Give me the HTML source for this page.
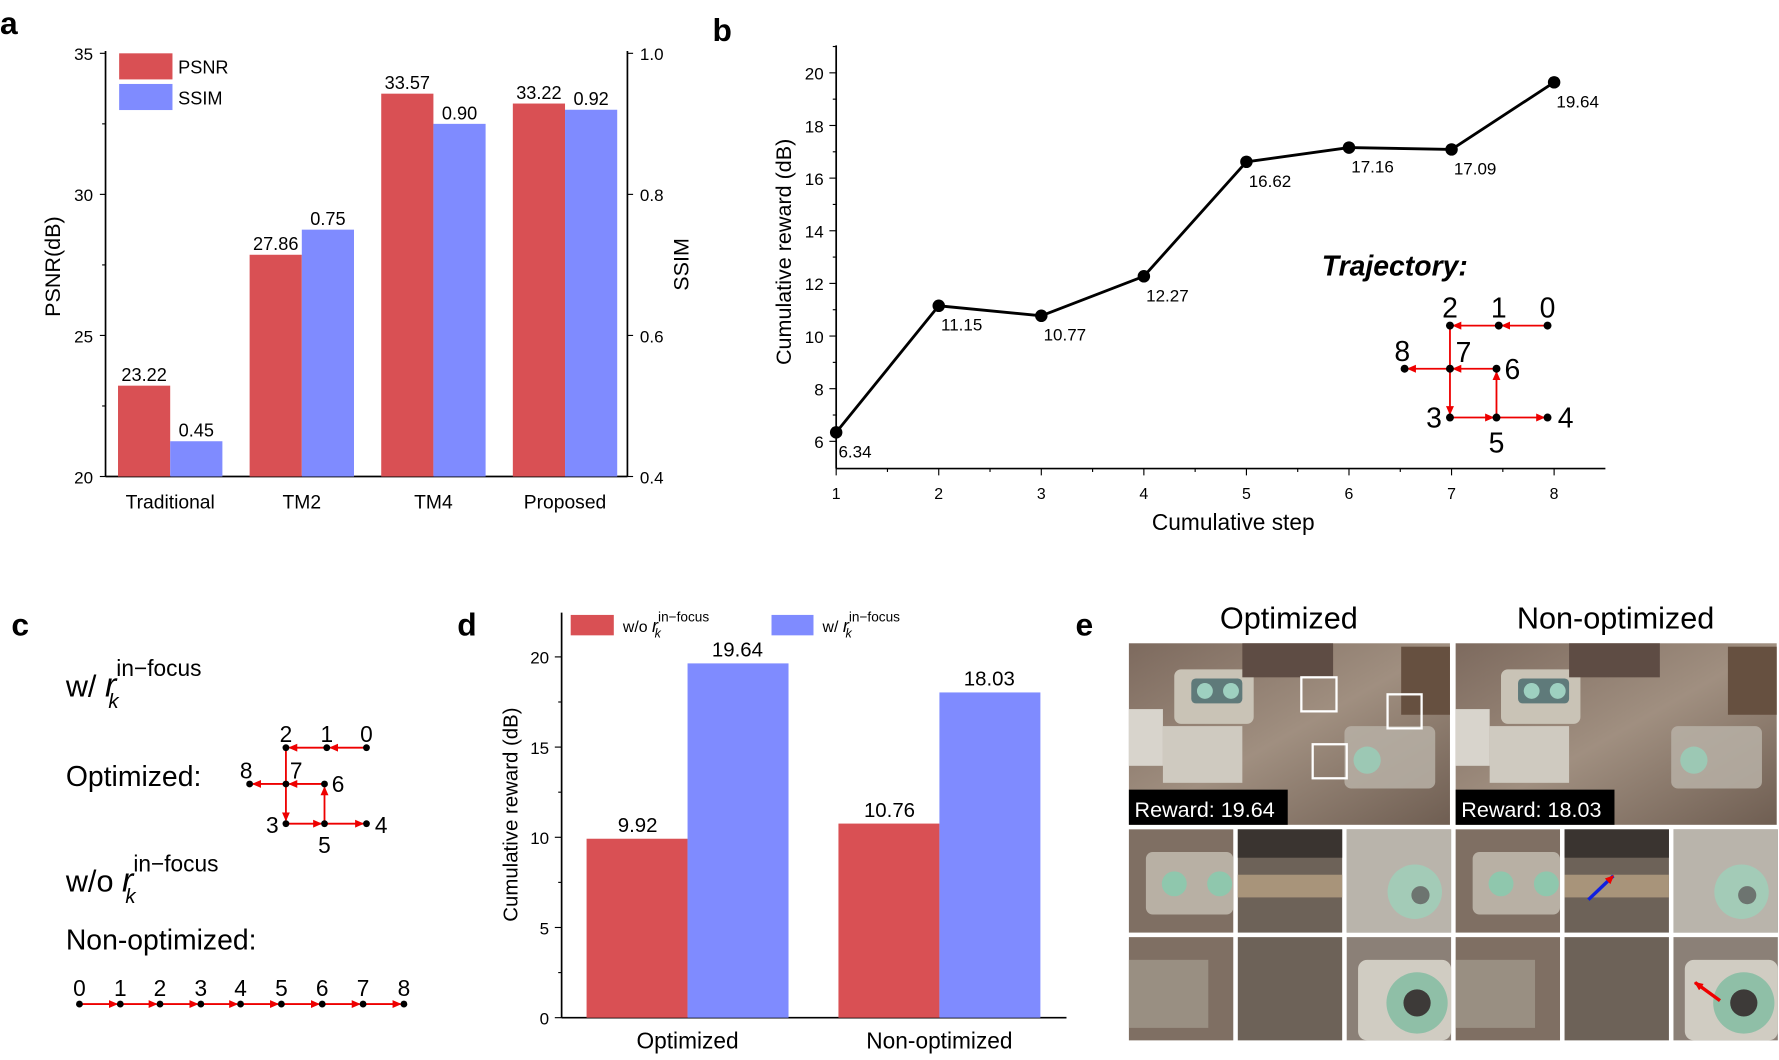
<!DOCTYPE html>
<html><head><meta charset="utf-8"><style>
html,body{margin:0;padding:0;background:#fff}
svg{display:block;font-family:"Liberation Sans",sans-serif}
</style></head><body>
<svg id="fig" width="1779" height="1060" viewBox="0 0 1568 934.3" xmlns="http://www.w3.org/2000/svg">
<defs>
<marker id="ar" markerWidth="8" markerHeight="8" refX="7" refY="4" orient="auto" markerUnits="userSpaceOnUse"><path d="M0,0.5 L8,4 L0,7.5 Z" fill="#e00"/></marker>
<linearGradient id="imgA" x1="0" y1="0" x2="1" y2="1"><stop offset="0" stop-color="#7d6a5e"/><stop offset="0.5" stop-color="#a08f80"/><stop offset="1" stop-color="#6f5e52"/></linearGradient>
</defs>
<g font-weight="bold" font-size="28">
<text x="0" y="30">a</text>
<text x="628" y="36">b</text>
<text x="10" y="560">c</text>
<text x="403" y="560">d</text>
<text x="948" y="560">e</text>
</g>
<g id="pa"></g>
<g id="pb"></g>
<g id="pc">
<text x="58" y="614" font-size="27">w/ <tspan font-style="italic" font-size="30">r</tspan><tspan font-size="20" dy="-18">in−focus</tspan><tspan font-style="italic" font-size="18" dx="-82" dy="28">k</tspan></text>
<text x="58" y="693" font-size="25">Optimized:</text>
<text x="58" y="786" font-size="27">w/o <tspan font-style="italic" font-size="30">r</tspan><tspan font-size="20" dy="-18">in−focus</tspan><tspan font-style="italic" font-size="18" dx="-82" dy="28">k</tspan></text>
<text x="58" y="837" font-size="25">Non-optimized:</text>
</g>
<g id="pd"></g>
<g id="pe"></g>
</svg>
<script>
const NS="http://www.w3.org/2000/svg";
function mk(parent,tag,attrs,txt){const e=document.createElementNS(NS,tag);for(const k in attrs)e.setAttribute(k,attrs[k]);if(txt!==undefined)e.textContent=txt;parent.appendChild(e);return e;}

/* ---------- Panel a data ---------- */
const aCategories=["Traditional","TM2","TM4","Proposed"];
const aPSNR=[23.22,27.86,33.57,33.22];
const aSSIM=[0.45,0.75,0.90,0.92];
const aLeftTicks=[20,25,30,35];
const aRightTicks=[0.4,0.6,0.8,1.0];

/* ---------- Panel b data ---------- */
const bSteps=[1,2,3,4,5,6,7,8];
const bReward=[6.34,11.15,10.77,12.27,16.62,17.16,17.09,19.64];
const bYTicks=[6,8,10,12,14,16,18,20];

/* ---------- Panel d data ---------- */
const dCategories=["Optimized","Non-optimized"];
const dWithout=[9.92,10.76];
const dWith=[19.64,18.03];
const dYTicks=[0,5,10,15,20];

const RED="#d95054", BLUE="#7f8bff";

/* Panel a */
(function(){
const g=document.getElementById('pa');
const yL=v=>420-(v-20)/15*373;
const yR=v=>420-(v-0.4)/0.6*373;
const xc=i=>150+i*116;
mk(g,'line',{x1:93,y1:420,x2:553,y2:420,stroke:'#000','stroke-width':1.5});
mk(g,'line',{x1:93,y1:45,x2:93,y2:420,stroke:'#000','stroke-width':1.5});
mk(g,'line',{x1:553,y1:45,x2:553,y2:420,stroke:'#000','stroke-width':1.5});
aLeftTicks.forEach(t=>{const y=yL(t);
 mk(g,'line',{x1:88,y1:y,x2:93,y2:y,stroke:'#000'});
 const tl=mk(g,'text',{x:82,y:y+6,'font-size':15,'text-anchor':'end'},t);
 
 
 if(t<35){const m=yL(t+2.5);mk(g,'line',{x1:90,y1:m,x2:93,y2:m,stroke:'#000'});}
});
aRightTicks.forEach(t=>{const y=yR(t);
 mk(g,'line',{x1:553,y1:y,x2:558,y2:y,stroke:'#000'});
 const tl=mk(g,'text',{x:564,y:y+6,'font-size':15},t.toFixed(1));
 
 
});
aCategories.forEach((c,i)=>{
 const x=xc(i);
 const r=mk(g,'rect',{x:x-46,y:yL(aPSNR[i]),width:46,height:420-yL(aPSNR[i]),fill:RED});
 
 
 const b=mk(g,'rect',{x:x,y:yR(aSSIM[i]),width:46,height:420-yR(aSSIM[i]),fill:BLUE});
 
 
 const t1=mk(g,'text',{x:x-23,y:yL(aPSNR[i])-4,'font-size':16,'text-anchor':'middle'},aPSNR[i].toFixed(2));
 
 
 const t2=mk(g,'text',{x:x+23,y:yR(aSSIM[i])-4,'font-size':16,'text-anchor':'middle'},aSSIM[i].toFixed(2));
 
 
 const cl=mk(g,'text',{x:x,y:448,'font-size':17,'text-anchor':'middle'},c);
 
 
});
const l1=mk(g,'rect',{x:105,y:47,width:47,height:23,fill:RED});


const l2=mk(g,'rect',{x:105,y:74,width:47,height:23,fill:BLUE});


const lt1=mk(g,'text',{x:157,y:65,'font-size':16},'PSNR');


const lt2=mk(g,'text',{x:157,y:92,'font-size':16},'SSIM');


const yt=mk(g,'text',{x:0,y:0,'font-size':19,'text-anchor':'middle',transform:'translate(53,235) rotate(-90)'},'PSNR(dB)');


const yt2=mk(g,'text',{x:0,y:0,'font-size':19,'text-anchor':'middle',transform:'translate(607,233) rotate(-90)'},'SSIM');


})();

/* trajectory drawer */
function traj(g,pts,segs,labels,fs,dot){
 segs.forEach(s=>{const a=pts[s[0]],b=pts[s[1]];
  const dx=b[0]-a[0],dy=b[1]-a[1],L=Math.hypot(dx,dy);
  const ln=mk(g,'line',{x1:a[0],y1:a[1],x2:b[0]-dx/L*3,y2:b[1]-dy/L*3,stroke:'#e00','stroke-width':1.6,'marker-end':'url(#ar)'});
  
  
 });
 pts.forEach((p,i)=>{const d=mk(g,'circle',{cx:p[0],cy:p[1],r:dot,fill:'#000'});
  
  
  const t=mk(g,'text',{x:p[0]+labels[i][0],y:p[1]+labels[i][1],'font-size':fs,'text-anchor':'middle'},i);
  
  
 });
}

/* Panel b */
(function(){
const g=document.getElementById('pb');
const x=s=>737+(s-1)*90.4;
const y=v=>528.2-23.2*v;
mk(g,'line',{x1:737,y1:413,x2:1415,y2:413,stroke:'#000','stroke-width':1.5});
mk(g,'line',{x1:737,y1:40,x2:737,y2:413,stroke:'#000','stroke-width':1.5});
bSteps.forEach(s=>{mk(g,'line',{x1:x(s),y1:413,x2:x(s),y2:419,stroke:'#000'});
 if(s<8)mk(g,'line',{x1:x(s+0.5),y1:413,x2:x(s+0.5),y2:416,stroke:'#000'});
 const t=mk(g,'text',{x:x(s),y:440,'font-size':14,'text-anchor':'middle'},s);
 
 
});
bYTicks.forEach(v=>{mk(g,'line',{x1:731,y1:y(v),x2:737,y2:y(v),stroke:'#000'});
 mk(g,'line',{x1:734,y1:y(v+1),x2:737,y2:y(v+1),stroke:'#000'});
 const t=mk(g,'text',{x:726,y:y(v)+6,'font-size':15,'text-anchor':'end'},v);
 
 
});
const pl=mk(g,'polyline',{points:bSteps.map((s,i)=>x(s)+','+y(bReward[i])).join(' '),fill:'none',stroke:'#000','stroke-width':2.5});


bSteps.forEach((s,i)=>{const c=mk(g,'circle',{cx:x(s),cy:y(bReward[i]),r:5.5,fill:'#000'});
 
 
 const t=mk(g,'text',{x:x(s)+2,y:y(bReward[i])+22,'font-size':15},bReward[i].toFixed(2));
 
 
});
const xt=mk(g,'text',{x:1087,y:467,'font-size':20,'text-anchor':'middle'},'Cumulative step');


const yt=mk(g,'text',{x:0,y:0,'font-size':19,'text-anchor':'middle',transform:'translate(697,222) rotate(-90)'},'Cumulative reward (dB)');


const tt=mk(g,'text',{x:1165,y:243,'font-size':25,'font-weight':'bold','font-style':'italic'},'Trajectory:');


const tg=mk(g,'g',{});


traj(tg,[[1364,287],[1321,287],[1278,287],[1278,368],[1364,368],[1319,368],[1319,325],[1278,325],[1238,325]],
 [[0,1],[1,2],[2,3],[3,5],[5,4],[5,6],[6,7],[7,8]],
 [[0,-7],[0,-7],[0,-7],[-14,9],[16,9],[0,31],[14,9],[12,-6],[-2,-7]],25,3.5);
})();

/* Panel c trajectories */
(function(){
const g=document.getElementById('pc');
traj(g,[[323,659],[288,659],[252,659],[252,726],[323,726],[286,726],[286,691],[252,691],[220,691]],
 [[0,1],[1,2],[2,3],[3,5],[5,4],[5,6],[6,7],[7,8]],
 [[0,-5],[0,-5],[0,-5],[-12,8],[13,8],[0,26],[12,7],[9,-5],[-3,-5]],20,3);
const xs=[70,106,141,177,212,248,284,320,356];
xs.forEach((x0,i)=>{if(i<8){const ln=mk(g,'line',{x1:x0,y1:885,x2:xs[i+1]-3,y2:885,stroke:'#e00','stroke-width':1.6,'marker-end':'url(#ar)'});
 
 }});
xs.forEach((x0,i)=>{const d=mk(g,'circle',{cx:x0,cy:885,r:3,fill:'#000'});
 
 
 const t=mk(g,'text',{x:x0,y:878,'font-size':20,'text-anchor':'middle'},i);
 
 
});
})();

/* Panel d */
(function(){
const g=document.getElementById('pd');
const y=v=>897-15.9*v;
mk(g,'line',{x1:495,y1:897,x2:940,y2:897,stroke:'#000','stroke-width':1.5});
mk(g,'line',{x1:495,y1:540,x2:495,y2:897,stroke:'#000','stroke-width':1.5});
dYTicks.forEach(v=>{mk(g,'line',{x1:489,y1:y(v),x2:495,y2:y(v),stroke:'#000'});
 if(v<20)mk(g,'line',{x1:492,y1:y(v+2.5),x2:495,y2:y(v+2.5),stroke:'#000'});
 const t=mk(g,'text',{x:484,y:y(v)+6,'font-size':15,'text-anchor':'end'},v);
 
 
});
dCategories.forEach((c,i)=>{const x=606+i*222;
 const r=mk(g,'rect',{x:x-89,y:y(dWithout[i]),width:89,height:897-y(dWithout[i]),fill:RED});
 
 
 const b=mk(g,'rect',{x:x,y:y(dWith[i]),width:89,height:897-y(dWith[i]),fill:BLUE});
 
 
 const t1=mk(g,'text',{x:x-44,y:y(dWithout[i])-6,'font-size':18,'text-anchor':'middle'},dWithout[i].toFixed(2));
 
 
 const t2=mk(g,'text',{x:x+44,y:y(dWith[i])-6,'font-size':18,'text-anchor':'middle'},dWith[i].toFixed(2));
 
 
 const cl=mk(g,'text',{x:x,y:924,'font-size':20,'text-anchor':'middle'},c);
 
 
});
const s1=mk(g,'rect',{x:503,y:542,width:38,height:18,fill:RED});


const s2=mk(g,'rect',{x:680,y:542,width:37,height:18,fill:BLUE});


const lt1=mk(g,'text',{x:549,y:557,'font-size':14});
lt1.innerHTML='w/o <tspan font-style="italic" font-size="16">r</tspan><tspan font-size="12" dy="-9">in−focus</tspan><tspan font-style="italic" font-size="11" dx="-48" dy="14">k</tspan>';


const lt2=mk(g,'text',{x:725,y:557,'font-size':14});
lt2.innerHTML='w/  <tspan font-style="italic" font-size="16">r</tspan><tspan font-size="12" dy="-9">in−focus</tspan><tspan font-style="italic" font-size="11" dx="-48" dy="14">k</tspan>';


const yt=mk(g,'text',{x:0,y:0,'font-size':18,'text-anchor':'middle',transform:'translate(456,718) rotate(-90)'},'Cumulative reward (dB)');


})();

/* Panel e */
(function(){
const g=document.getElementById('pe');
[[995,'Optimized','19.64'],[1283,'Non-optimized','18.03']].forEach(([x0,title,rw],k)=>{
 const t=mk(g,'text',{x:x0+141,y:554,'font-size':27,'text-anchor':'middle'},title);
 
 
 const im=mk(g,'g',{});
 
 
 mk(im,'rect',{x:x0,y:567,width:283,height:160,fill:'url(#imgA)'});
 mk(im,'rect',{x:x0+40,y:590,width:70,height:48,rx:6,fill:'#c9c3b6'});
 mk(im,'rect',{x:x0+55,y:598,width:45,height:22,rx:4,fill:'#5f7a7a'});
 mk(im,'circle',{cx:x0+67,cy:609,r:7,fill:'#9ed0c0'});
 mk(im,'circle',{cx:x0+90,cy:609,r:7,fill:'#9ed0c0'});
 mk(im,'rect',{x:x0+30,y:640,width:70,height:50,fill:'#cfcac0'});
 mk(im,'rect',{x:x0,y:625,width:30,height:50,fill:'#d8d4cc'});
 mk(im,'rect',{x:x0+190,y:640,width:80,height:55,rx:6,fill:'#b7b0a6',opacity:0.85});
 mk(im,'circle',{cx:x0+210,cy:670,r:12,fill:'#9cc8b4'});
 mk(im,'rect',{x:x0+100,y:567,width:80,height:30,fill:'#5e4c44'});
 mk(im,'rect',{x:x0+240,y:570,width:43,height:60,fill:'#665040'});
 mk(im,'rect',{x:x0,y:696,width:140,height:31,fill:'#000'});
 const rt=mk(im,'text',{x:x0+5,y:720,'font-size':19,fill:'#fff'},'Reward: '+rw);
 
 
 if(k===0){[[1147,597,31,30],[1223,612,30,30],[1157,656,30,30]].forEach(b=>{
  const r=mk(im,'rect',{x:b[0],y:b[1],width:b[2],height:b[3],fill:'none',stroke:'#fff','stroke-width':2});
  
  });}
 const cols=['#7f6f63','#6d6258','#8b8077'];
 [731,826].forEach((ty,row)=>{[0,1,2].forEach(c=>{
  const tx=x0+c*96;
  const th=mk(g,'g',{});
  
  
  mk(th,'rect',{x:tx,y:ty,width:92,height:91,fill:cols[c]});
  if(row===0&&c===0){mk(th,'rect',{x:tx+15,y:ty+20,width:77,height:55,rx:6,fill:'#b8b0a4'});mk(th,'circle',{cx:tx+40,cy:ty+48,r:11,fill:'#8fc7ad'});mk(th,'circle',{cx:tx+80,cy:ty+48,r:11,fill:'#8fc7ad'});}
  if(row===0&&c===1){mk(th,'rect',{x:tx,y:ty,width:92,height:25,fill:'#3a3430'});mk(th,'rect',{x:tx,y:ty+40,width:92,height:20,fill:'#a8947a'});}
  if(row===0&&c===2){mk(th,'rect',{x:tx,y:ty,width:92,height:91,fill:'#b9b4ab'});mk(th,'circle',{cx:tx+60,cy:ty+55,r:24,fill:'#a3cbb7'});mk(th,'circle',{cx:tx+65,cy:ty+58,r:8,fill:'#6d7470'});}
  if(row===1&&c===0){mk(th,'rect',{x:tx,y:ty+20,width:70,height:60,fill:'#a49c90',opacity:0.7});}
  if(row===1&&c===2){mk(th,'rect',{x:tx+10,y:ty+20,width:82,height:71,rx:8,fill:'#d0ccc2'});mk(th,'circle',{cx:tx+62,cy:ty+58,r:27,fill:'#8fbfa7'});mk(th,'circle',{cx:tx+62,cy:ty+58,r:12,fill:'#3d3a38'});}
 });});
});
const a1=mk(g,'line',{x1:1400,y1:793,x2:1422,y2:772,stroke:'#1020e0','stroke-width':3,'marker-end':'url(#ar)'});


const a2=mk(g,'line',{x1:1516,y1:882,x2:1494,y2:866,stroke:'#e00','stroke-width':3,'marker-end':'url(#ar)'});


})();
</script>
</body></html>
